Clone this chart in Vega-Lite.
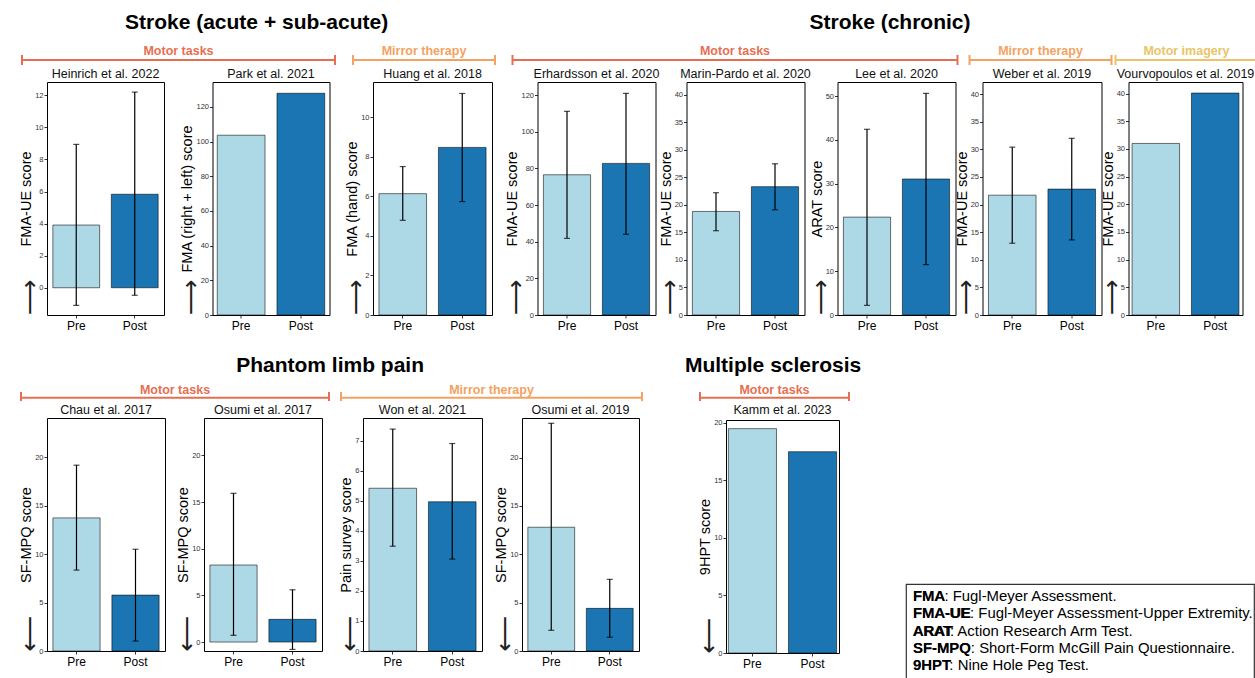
{
"$schema": "https://vega.github.io/schema/vega-lite/v6.json",
"padding": {"left": 17, "top": 12, "right": 0, "bottom": 0},
"config": {
 "font": "Liberation Sans",
 "view": {"stroke": "#000", "strokeWidth": 1},
 "axis": {"grid": false, "domain": false, "tickSize": 3, "tickColor": "#000", "tickWidth": 0.8},
 "axisY": {"labelFontSize": 7.5, "labelColor": "#333", "labelPadding": 1, "titleFontSize": 14.5, "titleFontWeight": "normal", "titleColor": "#000", "titlePadding": 1},
 "axisX": {"labelFontSize": 12, "labelColor": "#000", "labelAngle": 0, "labelPadding": 2},
 "title": {"fontSize": 12.5, "fontWeight": "normal", "color": "#111", "offset": 2, "frame": "group"},
 "bar": {"stroke": "#000", "strokeOpacity": 0.55, "strokeWidth": 1}
},
"spacing": 23,
"vconcat": [
 {"hconcat": [
  {"title": {"text": "Stroke (acute + sub-acute)", "fontSize": 21, "fontWeight": "bold", "color": "#000", "anchor": "middle", "frame": "bounds", "offset": 10},
   "spacing": 1,
   "vconcat": [
    {"hconcat": [
      {"width": 288, "height": 22, "view": {"stroke": null}, "data": {"values": [{"label": "Motor tasks"}]},
       "layer": [
        {"mark": {"type": "rule", "color": "#E76F51", "strokeWidth": 2}, "encoding": {"x": {"datum": 0, "type": "quantitative", "scale": {"domain": [0.0799, 1], "zero": false, "nice": false}, "axis": null}, "x2": {"datum": 1}, "y": {"datum": 0.227, "type": "quantitative", "scale": {"domain": [0, 1], "zero": false, "nice": false}, "axis": null}}},
        {"mark": {"type": "rule", "color": "#E76F51", "strokeWidth": 2}, "encoding": {"x": {"datum": 0, "type": "quantitative"}, "y": {"datum": 0, "type": "quantitative"}, "y2": {"datum": 0.4545}}},
        {"mark": {"type": "rule", "color": "#E76F51", "strokeWidth": 2}, "encoding": {"x": {"datum": 1, "type": "quantitative"}, "y": {"datum": 0, "type": "quantitative"}, "y2": {"datum": 0.4545}}},
        {"mark": {"type": "text", "color": "#E76F51", "fontSize": 12.5, "fontWeight": "bold", "baseline": "middle"}, "encoding": {"x": {"datum": 0.5, "type": "quantitative"}, "y": {"datum": 0.636, "type": "quantitative"}, "text": {"field": "label"}}}
       ]},
      {"width": 142, "height": 22, "view": {"stroke": null}, "data": {"values": [{"label": "Mirror therapy"}]},
       "layer": [
        {"mark": {"type": "rule", "color": "#F4A261", "strokeWidth": 2}, "encoding": {"x": {"datum": 0, "type": "quantitative", "scale": {"domain": [0, 1], "zero": false, "nice": false}, "axis": null}, "x2": {"datum": 1}, "y": {"datum": 0.227, "type": "quantitative", "scale": {"domain": [0, 1], "zero": false, "nice": false}, "axis": null}}},
        {"mark": {"type": "rule", "color": "#F4A261", "strokeWidth": 2}, "encoding": {"x": {"datum": 0, "type": "quantitative"}, "y": {"datum": 0, "type": "quantitative"}, "y2": {"datum": 0.4545}}},
        {"mark": {"type": "rule", "color": "#F4A261", "strokeWidth": 2}, "encoding": {"x": {"datum": 1, "type": "quantitative"}, "y": {"datum": 0, "type": "quantitative"}, "y2": {"datum": 0.4545}}},
        {"mark": {"type": "text", "color": "#F4A261", "fontSize": 12.5, "fontWeight": "bold", "baseline": "middle"}, "encoding": {"x": {"datum": 0.5, "type": "quantitative"}, "y": {"datum": 0.636, "type": "quantitative"}, "text": {"field": "label"}}}
       ]}
     ], "spacing": 16},
    {"hconcat": [
      {"width": 117, "height": 233, "title": "Heinrich et al. 2022",
       "data": {"values": [{"t": "Pre", "v": 3.91, "lo": -1.1, "hi": 8.94}, {"t": "Post", "v": 5.83, "lo": -0.47, "hi": 12.2}]},
       "resolve": {"axis": {"y": "independent"}},
       "layer": [
        {"mark": "bar", "encoding": {
          "x": {"field": "t", "type": "nominal", "sort": ["Pre", "Post"], "title": null, "scale": {"paddingInner": 0.2, "paddingOuter": 0.1}},
          "y": {"field": "v", "type": "quantitative", "title": "FMA-UE score", "scale": {"domain": [-1.7, 12.83], "nice": false, "zero": false}, "axis": {"values": [0, 2, 4, 6, 8, 10, 12]}},
          "y2": {"datum": 0},
          "color": {"field": "t", "type": "nominal", "scale": {"domain": ["Pre", "Post"], "range": ["#add8e6", "#1a75b2"]}, "legend": null}}},
        {"mark": {"type": "rule", "color": "#000", "strokeWidth": 1.2}, "encoding": {
          "x": {"field": "t", "type": "nominal", "sort": ["Pre", "Post"], "title": null},
          "y": {"field": "lo", "type": "quantitative", "axis": {"orient": "left", "title": "⟶", "titleFont": "DejaVu Sans", "titleFontSize": 25, "titleAnchor": "start", "titleColor": "#222", "titlePadding": -8, "labelColor": "transparent", "tickColor": "transparent", "values": [0, 2, 4, 6, 8, 10, 12]}},
          "y2": {"field": "hi"}}},
        {"mark": {"type": "tick", "color": "#000", "size": 6, "thickness": 1.2}, "encoding": {"x": {"field": "t", "type": "nominal", "sort": ["Pre", "Post"], "title": null}, "y": {"field": "lo", "type": "quantitative", "axis": null}}},
        {"mark": {"type": "tick", "color": "#000", "size": 6, "thickness": 1.2}, "encoding": {"x": {"field": "t", "type": "nominal", "sort": ["Pre", "Post"], "title": null}, "y": {"field": "hi", "type": "quantitative", "axis": null}}}
       ]},
      {"width": 117, "height": 233, "title": "Park et al. 2021",
       "data": {"values": [{"t": "Pre", "v": 103.7}, {"t": "Post", "v": 127.9}]},
       "resolve": {"axis": {"y": "independent"}},
       "layer": [
        {"mark": "bar", "encoding": {
          "x": {"field": "t", "type": "nominal", "sort": ["Pre", "Post"], "title": null, "scale": {"paddingInner": 0.2, "paddingOuter": 0.08}},
          "y": {"field": "v", "type": "quantitative", "title": "FMA (right + left) score", "scale": {"domain": [0, 134.4], "nice": false, "zero": false}, "axis": {"values": [0, 20, 40, 60, 80, 100, 120]}},
          "y2": {"datum": 0},
          "color": {"field": "t", "type": "nominal", "scale": {"domain": ["Pre", "Post"], "range": ["#add8e6", "#1a75b2"]}, "legend": null}}},
        {"mark": {"type": "rule", "color": "#000", "strokeWidth": 1.2}, "encoding": {
          "x": {"field": "t", "type": "nominal", "sort": ["Pre", "Post"], "title": null},
          "y": {"field": "lo", "type": "quantitative", "axis": {"orient": "left", "title": "⟶", "titleFont": "DejaVu Sans", "titleFontSize": 25, "titleAnchor": "start", "titleColor": "#222", "titlePadding": -8, "labelColor": "transparent", "tickColor": "transparent", "values": [0, 20, 40, 60, 80, 100, 120]}},
          "y2": {"field": "hi"}}}
       ]},
      {"width": 119, "height": 233, "title": "Huang et al. 2018",
       "data": {"values": [{"t": "Pre", "v": 6.14, "lo": 4.79, "hi": 7.51}, {"t": "Post", "v": 8.48, "lo": 5.74, "hi": 11.21}]},
       "resolve": {"axis": {"y": "independent"}},
       "layer": [
        {"mark": "bar", "encoding": {
          "x": {"field": "t", "type": "nominal", "sort": ["Pre", "Post"], "title": null, "scale": {"paddingInner": 0.2, "paddingOuter": 0.1}},
          "y": {"field": "v", "type": "quantitative", "title": "FMA (hand) score", "scale": {"domain": [0, 11.79], "nice": false, "zero": false}, "axis": {"values": [0, 2, 4, 6, 8, 10]}},
          "y2": {"datum": 0},
          "color": {"field": "t", "type": "nominal", "scale": {"domain": ["Pre", "Post"], "range": ["#add8e6", "#1a75b2"]}, "legend": null}}},
        {"mark": {"type": "rule", "color": "#000", "strokeWidth": 1.2}, "encoding": {
          "x": {"field": "t", "type": "nominal", "sort": ["Pre", "Post"], "title": null},
          "y": {"field": "lo", "type": "quantitative", "axis": {"orient": "left", "title": "⟶", "titleFont": "DejaVu Sans", "titleFontSize": 25, "titleAnchor": "start", "titleColor": "#222", "titlePadding": -8, "labelColor": "transparent", "tickColor": "transparent", "values": [0, 2, 4, 6, 8, 10]}},
          "y2": {"field": "hi"}}},
        {"mark": {"type": "tick", "color": "#000", "size": 6, "thickness": 1.2}, "encoding": {"x": {"field": "t", "type": "nominal", "sort": ["Pre", "Post"], "title": null}, "y": {"field": "lo", "type": "quantitative", "axis": null}}},
        {"mark": {"type": "tick", "color": "#000", "size": 6, "thickness": 1.2}, "encoding": {"x": {"field": "t", "type": "nominal", "sort": ["Pre", "Post"], "title": null}, "y": {"field": "hi", "type": "quantitative", "axis": null}}}
       ]}
     ], "spacing": 12.5}
   ]},
  {"title": {"text": "Stroke (chronic)", "fontSize": 21, "fontWeight": "bold", "color": "#000", "anchor": "middle", "frame": "bounds", "offset": 10, "dx": 9},
   "spacing": 1,
   "vconcat": [
    {"hconcat": [
      {"width": 420, "height": 22, "view": {"stroke": null}, "data": {"values": [{"label": "Motor tasks"}]},
       "layer": [
        {"mark": {"type": "rule", "color": "#E76F51", "strokeWidth": 2}, "encoding": {"x": {"datum": 0, "type": "quantitative", "scale": {"domain": [0.0562, 1], "zero": false, "nice": false}, "axis": null}, "x2": {"datum": 1}, "y": {"datum": 0.227, "type": "quantitative", "scale": {"domain": [0, 1], "zero": false, "nice": false}, "axis": null}}},
        {"mark": {"type": "rule", "color": "#E76F51", "strokeWidth": 2}, "encoding": {"x": {"datum": 0, "type": "quantitative"}, "y": {"datum": 0, "type": "quantitative"}, "y2": {"datum": 0.4545}}},
        {"mark": {"type": "rule", "color": "#E76F51", "strokeWidth": 2}, "encoding": {"x": {"datum": 1, "type": "quantitative"}, "y": {"datum": 0, "type": "quantitative"}, "y2": {"datum": 0.4545}}},
        {"mark": {"type": "text", "color": "#E76F51", "fontSize": 12.5, "fontWeight": "bold", "baseline": "middle"}, "encoding": {"x": {"datum": 0.5, "type": "quantitative"}, "y": {"datum": 0.636, "type": "quantitative"}, "text": {"field": "label"}}}
       ]},
      {"hconcat": [
        {"width": 142, "height": 22, "view": {"stroke": null}, "data": {"values": [{"label": "Mirror therapy"}]},
         "layer": [
          {"mark": {"type": "rule", "color": "#F4A261", "strokeWidth": 2}, "encoding": {"x": {"datum": 0, "type": "quantitative", "scale": {"domain": [0, 1], "zero": false, "nice": false}, "axis": null}, "x2": {"datum": 1}, "y": {"datum": 0.227, "type": "quantitative", "scale": {"domain": [0, 1], "zero": false, "nice": false}, "axis": null}}},
          {"mark": {"type": "rule", "color": "#F4A261", "strokeWidth": 2}, "encoding": {"x": {"datum": 0, "type": "quantitative"}, "y": {"datum": 0, "type": "quantitative"}, "y2": {"datum": 0.4545}}},
          {"mark": {"type": "rule", "color": "#F4A261", "strokeWidth": 2}, "encoding": {"x": {"datum": 1, "type": "quantitative"}, "y": {"datum": 0, "type": "quantitative"}, "y2": {"datum": 0.4545}}},
          {"mark": {"type": "text", "color": "#F4A261", "fontSize": 12.5, "fontWeight": "bold", "baseline": "middle"}, "encoding": {"x": {"datum": 0.5, "type": "quantitative"}, "y": {"datum": 0.636, "type": "quantitative"}, "text": {"field": "label"}}}
         ]},
        {"width": 142, "height": 22, "view": {"stroke": null}, "data": {"values": [{"label": "Motor imagery"}]},
         "layer": [
          {"mark": {"type": "rule", "color": "#E9C46A", "strokeWidth": 2}, "encoding": {"x": {"datum": 0, "type": "quantitative", "scale": {"domain": [0, 1], "zero": false, "nice": false}, "axis": null}, "x2": {"datum": 1}, "y": {"datum": 0.227, "type": "quantitative", "scale": {"domain": [0, 1], "zero": false, "nice": false}, "axis": null}}},
          {"mark": {"type": "rule", "color": "#E9C46A", "strokeWidth": 2}, "encoding": {"x": {"datum": 0, "type": "quantitative"}, "y": {"datum": 0, "type": "quantitative"}, "y2": {"datum": 0.4545}}},
          {"mark": {"type": "rule", "color": "#E9C46A", "strokeWidth": 2}, "encoding": {"x": {"datum": 1, "type": "quantitative"}, "y": {"datum": 0, "type": "quantitative"}, "y2": {"datum": 0.4545}}},
          {"mark": {"type": "text", "color": "#E9C46A", "fontSize": 12.5, "fontWeight": "bold", "baseline": "middle"}, "encoding": {"x": {"datum": 0.5, "type": "quantitative"}, "y": {"datum": 0.636, "type": "quantitative"}, "text": {"field": "label"}}}
         ]}
       ], "spacing": 2}
     ], "spacing": 10},
    {"hconcat": [
      {"width": 118, "height": 233, "title": "Erhardsson et al. 2020",
       "data": {"values": [{"t": "Pre", "v": 76.5, "lo": 41.8, "hi": 111.1}, {"t": "Post", "v": 82.7, "lo": 44.0, "hi": 120.9}]},
       "resolve": {"axis": {"y": "independent"}},
       "layer": [
        {"mark": "bar", "encoding": {
          "x": {"field": "t", "type": "nominal", "sort": ["Pre", "Post"], "title": null, "scale": {"paddingInner": 0.2, "paddingOuter": 0.1}},
          "y": {"field": "v", "type": "quantitative", "title": "FMA-UE score", "scale": {"domain": [0, 127.1], "nice": false, "zero": false}, "axis": {"values": [0, 20, 40, 60, 80, 100, 120]}},
          "y2": {"datum": 0},
          "color": {"field": "t", "type": "nominal", "scale": {"domain": ["Pre", "Post"], "range": ["#add8e6", "#1a75b2"]}, "legend": null}}},
        {"mark": {"type": "rule", "color": "#000", "strokeWidth": 1.2}, "encoding": {
          "x": {"field": "t", "type": "nominal", "sort": ["Pre", "Post"], "title": null},
          "y": {"field": "lo", "type": "quantitative", "axis": {"orient": "left", "title": "⟶", "titleFont": "DejaVu Sans", "titleFontSize": 25, "titleAnchor": "start", "titleColor": "#222", "titlePadding": -8, "labelColor": "transparent", "tickColor": "transparent", "values": [0, 20, 40, 60, 80, 100, 120]}},
          "y2": {"field": "hi"}}},
        {"mark": {"type": "tick", "color": "#000", "size": 6, "thickness": 1.2}, "encoding": {"x": {"field": "t", "type": "nominal", "sort": ["Pre", "Post"], "title": null}, "y": {"field": "lo", "type": "quantitative", "axis": null}}},
        {"mark": {"type": "tick", "color": "#000", "size": 6, "thickness": 1.2}, "encoding": {"x": {"field": "t", "type": "nominal", "sort": ["Pre", "Post"], "title": null}, "y": {"field": "hi", "type": "quantitative", "axis": null}}}
       ]},
      {"width": 118, "height": 233, "title": "Marin-Pardo et al. 2020",
       "data": {"values": [{"t": "Pre", "v": 18.8, "lo": 15.3, "hi": 22.2}, {"t": "Post", "v": 23.3, "lo": 19.1, "hi": 27.45}]},
       "resolve": {"axis": {"y": "independent"}},
       "layer": [
        {"mark": "bar", "encoding": {
          "x": {"field": "t", "type": "nominal", "sort": ["Pre", "Post"], "title": null, "scale": {"paddingInner": 0.2, "paddingOuter": 0.1}},
          "y": {"field": "v", "type": "quantitative", "title": "FMA-UE score", "scale": {"domain": [0, 42.3], "nice": false, "zero": false}, "axis": {"values": [0, 5, 10, 15, 20, 25, 30, 35, 40]}},
          "y2": {"datum": 0},
          "color": {"field": "t", "type": "nominal", "scale": {"domain": ["Pre", "Post"], "range": ["#8ecae6", "#1a75b2"]}, "legend": null}}},
        {"mark": {"type": "rule", "color": "#000", "strokeWidth": 1.2}, "encoding": {
          "x": {"field": "t", "type": "nominal", "sort": ["Pre", "Post"], "title": null},
          "y": {"field": "lo", "type": "quantitative", "axis": {"orient": "left", "title": "⟶", "titleFont": "DejaVu Sans", "titleFontSize": 25, "titleAnchor": "start", "titleColor": "#222", "titlePadding": -8, "labelColor": "transparent", "tickColor": "transparent", "values": [0, 5, 10, 15, 20, 25, 30, 35, 40]}},
          "y2": {"field": "hi"}}},
        {"mark": {"type": "tick", "color": "#000", "size": 6, "thickness": 1.2}, "encoding": {"x": {"field": "t", "type": "nominal", "sort": ["Pre", "Post"], "title": null}, "y": {"field": "lo", "type": "quantitative", "axis": null}}},
        {"mark": {"type": "tick", "color": "#000", "size": 6, "thickness": 1.2}, "encoding": {"x": {"field": "t", "type": "nominal", "sort": ["Pre", "Post"], "title": null}, "y": {"field": "hi", "type": "quantitative", "axis": null}}}
       ]},
      {"width": 118, "height": 233, "title": "Lee et al. 2020",
       "data": {"values": [{"t": "Pre", "v": 22.35, "lo": 2.2, "hi": 42.4}, {"t": "Post", "v": 31.05, "lo": 11.5, "hi": 50.6}]},
       "resolve": {"axis": {"y": "independent"}},
       "layer": [
        {"mark": "bar", "encoding": {
          "x": {"field": "t", "type": "nominal", "sort": ["Pre", "Post"], "title": null, "scale": {"paddingInner": 0.2, "paddingOuter": 0.1}},
          "y": {"field": "v", "type": "quantitative", "title": "ARAT score", "scale": {"domain": [0, 53.2], "nice": false, "zero": false}, "axis": {"values": [0, 10, 20, 30, 40, 50]}},
          "y2": {"datum": 0},
          "color": {"field": "t", "type": "nominal", "scale": {"domain": ["Pre", "Post"], "range": ["#add8e6", "#1a75b2"]}, "legend": null}}},
        {"mark": {"type": "rule", "color": "#000", "strokeWidth": 1.2}, "encoding": {
          "x": {"field": "t", "type": "nominal", "sort": ["Pre", "Post"], "title": null},
          "y": {"field": "lo", "type": "quantitative", "axis": {"orient": "left", "title": "⟶", "titleFont": "DejaVu Sans", "titleFontSize": 25, "titleAnchor": "start", "titleColor": "#222", "titlePadding": -8, "labelColor": "transparent", "tickColor": "transparent", "values": [0, 10, 20, 30, 40, 50]}},
          "y2": {"field": "hi"}}},
        {"mark": {"type": "tick", "color": "#000", "size": 6, "thickness": 1.2}, "encoding": {"x": {"field": "t", "type": "nominal", "sort": ["Pre", "Post"], "title": null}, "y": {"field": "lo", "type": "quantitative", "axis": null}}},
        {"mark": {"type": "tick", "color": "#000", "size": 6, "thickness": 1.2}, "encoding": {"x": {"field": "t", "type": "nominal", "sort": ["Pre", "Post"], "title": null}, "y": {"field": "hi", "type": "quantitative", "axis": null}}}
       ]},
      {"width": 119, "height": 233, "title": "Weber et al. 2019",
       "data": {"values": [{"t": "Pre", "v": 21.7, "lo": 13.0, "hi": 30.4}, {"t": "Post", "v": 22.8, "lo": 13.6, "hi": 32.0}]},
       "resolve": {"axis": {"y": "independent"}},
       "layer": [
        {"mark": "bar", "encoding": {
          "x": {"field": "t", "type": "nominal", "sort": ["Pre", "Post"], "title": null, "scale": {"paddingInner": 0.2, "paddingOuter": 0.1}},
          "y": {"field": "v", "type": "quantitative", "title": "FMA-UE score", "scale": {"domain": [0, 42.2], "nice": false, "zero": false}, "axis": {"values": [0, 5, 10, 15, 20, 25, 30, 35, 40]}},
          "y2": {"datum": 0},
          "color": {"field": "t", "type": "nominal", "scale": {"domain": ["Pre", "Post"], "range": ["#8ecae6", "#1a75b2"]}, "legend": null}}},
        {"mark": {"type": "rule", "color": "#000", "strokeWidth": 1.2}, "encoding": {
          "x": {"field": "t", "type": "nominal", "sort": ["Pre", "Post"], "title": null},
          "y": {"field": "lo", "type": "quantitative", "axis": {"orient": "left", "title": "⟶", "titleFont": "DejaVu Sans", "titleFontSize": 25, "titleAnchor": "start", "titleColor": "#222", "titlePadding": -8, "labelColor": "transparent", "tickColor": "transparent", "values": [0, 5, 10, 15, 20, 25, 30, 35, 40]}},
          "y2": {"field": "hi"}}},
        {"mark": {"type": "tick", "color": "#000", "size": 6, "thickness": 1.2}, "encoding": {"x": {"field": "t", "type": "nominal", "sort": ["Pre", "Post"], "title": null}, "y": {"field": "lo", "type": "quantitative", "axis": null}}},
        {"mark": {"type": "tick", "color": "#000", "size": 6, "thickness": 1.2}, "encoding": {"x": {"field": "t", "type": "nominal", "sort": ["Pre", "Post"], "title": null}, "y": {"field": "hi", "type": "quantitative", "axis": null}}}
       ]},
      {"width": 114, "height": 233, "title": "Vourvopoulos et al. 2019",
       "data": {"values": [{"t": "Pre", "v": 31.0}, {"t": "Post", "v": 40.1}]},
       "resolve": {"axis": {"y": "independent"}},
       "layer": [
        {"mark": "bar", "encoding": {
          "x": {"field": "t", "type": "nominal", "sort": ["Pre", "Post"], "title": null, "scale": {"paddingInner": 0.2, "paddingOuter": 0.06}},
          "y": {"field": "v", "type": "quantitative", "title": "FMA-UE score", "scale": {"domain": [0, 42.1], "nice": false, "zero": false}, "axis": {"values": [0, 5, 10, 15, 20, 25, 30, 35, 40]}},
          "y2": {"datum": 0},
          "color": {"field": "t", "type": "nominal", "scale": {"domain": ["Pre", "Post"], "range": ["#8ecae6", "#1a75b2"]}, "legend": null}}},
        {"mark": {"type": "rule", "color": "#000", "strokeWidth": 1.2}, "encoding": {
          "x": {"field": "t", "type": "nominal", "sort": ["Pre", "Post"], "title": null},
          "y": {"field": "lo", "type": "quantitative", "axis": {"orient": "left", "title": "⟶", "titleFont": "DejaVu Sans", "titleFontSize": 25, "titleAnchor": "start", "titleColor": "#222", "titlePadding": -8, "labelColor": "transparent", "tickColor": "transparent", "values": [0, 5, 10, 15, 20, 25, 30, 35, 40]}},
          "y2": {"field": "hi"}}}
       ]}
     ], "spacing": -4}
   ]}
 ], "spacing": 6.5},
 {"hconcat": [
  {"hconcat": [
   {"title": {"text": "Phantom limb pain", "fontSize": 21, "fontWeight": "bold", "color": "#000", "anchor": "middle", "frame": "bounds", "offset": 8},
    "spacing": 1,
    "vconcat": [
     {"hconcat": [
       {"width": 282, "height": 16, "view": {"stroke": null}, "data": {"values": [{"label": "Motor tasks"}]},
        "layer": [
         {"mark": {"type": "rule", "color": "#E76F51", "strokeWidth": 2}, "encoding": {"x": {"datum": 0, "type": "quantitative", "scale": {"domain": [0.0844, 1], "zero": false, "nice": false}, "axis": null}, "x2": {"datum": 1}, "y": {"datum": 0.206, "type": "quantitative", "scale": {"domain": [0, 1], "zero": false, "nice": false}, "axis": null}}},
         {"mark": {"type": "rule", "color": "#E76F51", "strokeWidth": 2}, "encoding": {"x": {"datum": 0, "type": "quantitative"}, "y": {"datum": 0, "type": "quantitative"}, "y2": {"datum": 0.5625}}},
         {"mark": {"type": "rule", "color": "#E76F51", "strokeWidth": 2}, "encoding": {"x": {"datum": 1, "type": "quantitative"}, "y": {"datum": 0, "type": "quantitative"}, "y2": {"datum": 0.5625}}},
         {"mark": {"type": "text", "color": "#E76F51", "fontSize": 12.5, "fontWeight": "bold", "baseline": "middle"}, "encoding": {"x": {"datum": 0.5, "type": "quantitative"}, "y": {"datum": 0.669, "type": "quantitative"}, "text": {"field": "label"}}}
        ]},
       {"width": 301, "height": 16, "view": {"stroke": null}, "data": {"values": [{"label": "Mirror therapy"}]},
        "layer": [
         {"mark": {"type": "rule", "color": "#F4A261", "strokeWidth": 2}, "encoding": {"x": {"datum": 0, "type": "quantitative", "scale": {"domain": [0, 1], "zero": false, "nice": false}, "axis": null}, "x2": {"datum": 1}, "y": {"datum": 0.206, "type": "quantitative", "scale": {"domain": [0, 1], "zero": false, "nice": false}, "axis": null}}},
         {"mark": {"type": "rule", "color": "#F4A261", "strokeWidth": 2}, "encoding": {"x": {"datum": 0, "type": "quantitative"}, "y": {"datum": 0, "type": "quantitative"}, "y2": {"datum": 0.5625}}},
         {"mark": {"type": "rule", "color": "#F4A261", "strokeWidth": 2}, "encoding": {"x": {"datum": 1, "type": "quantitative"}, "y": {"datum": 0, "type": "quantitative"}, "y2": {"datum": 0.5625}}},
         {"mark": {"type": "text", "color": "#F4A261", "fontSize": 12.5, "fontWeight": "bold", "baseline": "middle"}, "encoding": {"x": {"datum": 0.5, "type": "quantitative"}, "y": {"datum": 0.669, "type": "quantitative"}, "text": {"field": "label"}}}
        ]}
      ], "spacing": 10},
     {"hconcat": [
       {"hconcat": [
         {"width": 118, "height": 233, "title": "Chau et al. 2017",
          "data": {"values": [{"t": "Pre", "v": 13.74, "lo": 8.35, "hi": 19.18}, {"t": "Post", "v": 5.77, "lo": 1.03, "hi": 10.5}]},
          "resolve": {"axis": {"y": "independent"}},
          "layer": [
           {"mark": "bar", "encoding": {
             "x": {"field": "t", "type": "nominal", "sort": ["Pre", "Post"], "title": null, "scale": {"paddingInner": 0.2, "paddingOuter": 0.1}},
             "y": {"field": "v", "type": "quantitative", "title": "SF-MPQ score", "scale": {"domain": [0, 24.05], "nice": false, "zero": false}, "axis": {"values": [0, 5, 10, 15, 20]}},
             "y2": {"datum": 0},
             "color": {"field": "t", "type": "nominal", "scale": {"domain": ["Pre", "Post"], "range": ["#8ecae6", "#1a75b2"]}, "legend": null}}},
           {"mark": {"type": "rule", "color": "#000", "strokeWidth": 1.2}, "encoding": {
             "x": {"field": "t", "type": "nominal", "sort": ["Pre", "Post"], "title": null},
             "y": {"field": "lo", "type": "quantitative", "axis": {"orient": "left", "title": "⟵", "titleFont": "DejaVu Sans", "titleFontSize": 25, "titleAnchor": "start", "titleColor": "#222", "titlePadding": -8, "labelColor": "transparent", "tickColor": "transparent", "values": [0, 5, 10, 15, 20]}},
             "y2": {"field": "hi"}}},
           {"mark": {"type": "tick", "color": "#000", "size": 6, "thickness": 1.2}, "encoding": {"x": {"field": "t", "type": "nominal", "sort": ["Pre", "Post"], "title": null}, "y": {"field": "lo", "type": "quantitative", "axis": null}}},
           {"mark": {"type": "tick", "color": "#000", "size": 6, "thickness": 1.2}, "encoding": {"x": {"field": "t", "type": "nominal", "sort": ["Pre", "Post"], "title": null}, "y": {"field": "hi", "type": "quantitative", "axis": null}}}
          ]},
         {"width": 118, "height": 233, "title": "Osumi et al. 2017",
          "data": {"values": [{"t": "Pre", "v": 8.25, "lo": 0.72, "hi": 15.93}, {"t": "Post", "v": 2.43, "lo": -0.79, "hi": 5.6}]},
          "resolve": {"axis": {"y": "independent"}},
          "layer": [
           {"mark": "bar", "encoding": {
             "x": {"field": "t", "type": "nominal", "sort": ["Pre", "Post"], "title": null, "scale": {"paddingInner": 0.2, "paddingOuter": 0.1}},
             "y": {"field": "v", "type": "quantitative", "title": "SF-MPQ score", "scale": {"domain": [-0.96, 24.0], "nice": false, "zero": false}, "axis": {"values": [0, 5, 10, 15, 20]}},
             "y2": {"datum": 0},
             "color": {"field": "t", "type": "nominal", "scale": {"domain": ["Pre", "Post"], "range": ["#8ecae6", "#1a75b2"]}, "legend": null}}},
           {"mark": {"type": "rule", "color": "#000", "strokeWidth": 1.2}, "encoding": {
             "x": {"field": "t", "type": "nominal", "sort": ["Pre", "Post"], "title": null},
             "y": {"field": "lo", "type": "quantitative", "axis": {"orient": "left", "title": "⟵", "titleFont": "DejaVu Sans", "titleFontSize": 25, "titleAnchor": "start", "titleColor": "#222", "titlePadding": -8, "labelColor": "transparent", "tickColor": "transparent", "values": [0, 5, 10, 15, 20]}},
             "y2": {"field": "hi"}}},
           {"mark": {"type": "tick", "color": "#000", "size": 6, "thickness": 1.2}, "encoding": {"x": {"field": "t", "type": "nominal", "sort": ["Pre", "Post"], "title": null}, "y": {"field": "lo", "type": "quantitative", "axis": null}}},
           {"mark": {"type": "tick", "color": "#000", "size": 6, "thickness": 1.2}, "encoding": {"x": {"field": "t", "type": "nominal", "sort": ["Pre", "Post"], "title": null}, "y": {"field": "hi", "type": "quantitative", "axis": null}}}
          ]}
        ], "spacing": 8},
       {"hconcat": [
         {"width": 119, "height": 233, "title": "Won et al. 2021",
          "data": {"values": [{"t": "Pre", "v": 5.42, "lo": 3.49, "hi": 7.39}, {"t": "Post", "v": 4.97, "lo": 3.06, "hi": 6.91}]},
          "resolve": {"axis": {"y": "independent"}},
          "layer": [
           {"mark": "bar", "encoding": {
             "x": {"field": "t", "type": "nominal", "sort": ["Pre", "Post"], "title": null, "scale": {"paddingInner": 0.2, "paddingOuter": 0.1}},
             "y": {"field": "v", "type": "quantitative", "title": "Pain survey score", "scale": {"domain": [0, 7.76], "nice": false, "zero": false}, "axis": {"values": [0, 1, 2, 3, 4, 5, 6, 7]}},
             "y2": {"datum": 0},
             "color": {"field": "t", "type": "nominal", "scale": {"domain": ["Pre", "Post"], "range": ["#add8e6", "#1a75b2"]}, "legend": null}}},
           {"mark": {"type": "rule", "color": "#000", "strokeWidth": 1.2}, "encoding": {
             "x": {"field": "t", "type": "nominal", "sort": ["Pre", "Post"], "title": null},
             "y": {"field": "lo", "type": "quantitative", "axis": {"orient": "left", "title": "⟵", "titleFont": "DejaVu Sans", "titleFontSize": 25, "titleAnchor": "start", "titleColor": "#222", "titlePadding": -8, "labelColor": "transparent", "tickColor": "transparent", "values": [0, 1, 2, 3, 4, 5, 6, 7]}},
             "y2": {"field": "hi"}}},
           {"mark": {"type": "tick", "color": "#000", "size": 6, "thickness": 1.2}, "encoding": {"x": {"field": "t", "type": "nominal", "sort": ["Pre", "Post"], "title": null}, "y": {"field": "lo", "type": "quantitative", "axis": null}}},
           {"mark": {"type": "tick", "color": "#000", "size": 6, "thickness": 1.2}, "encoding": {"x": {"field": "t", "type": "nominal", "sort": ["Pre", "Post"], "title": null}, "y": {"field": "hi", "type": "quantitative", "axis": null}}}
          ]},
         {"width": 117, "height": 233, "title": "Osumi et al. 2019",
          "data": {"values": [{"t": "Pre", "v": 12.8, "lo": 2.14, "hi": 23.55}, {"t": "Post", "v": 4.41, "lo": 1.42, "hi": 7.41}]},
          "resolve": {"axis": {"y": "independent"}},
          "layer": [
           {"mark": "bar", "encoding": {
             "x": {"field": "t", "type": "nominal", "sort": ["Pre", "Post"], "title": null, "scale": {"paddingInner": 0.2, "paddingOuter": 0.1}},
             "y": {"field": "v", "type": "quantitative", "title": "SF-MPQ score", "scale": {"domain": [0, 24.1], "nice": false, "zero": false}, "axis": {"values": [0, 5, 10, 15, 20]}},
             "y2": {"datum": 0},
             "color": {"field": "t", "type": "nominal", "scale": {"domain": ["Pre", "Post"], "range": ["#8ecae6", "#1a75b2"]}, "legend": null}}},
           {"mark": {"type": "rule", "color": "#000", "strokeWidth": 1.2}, "encoding": {
             "x": {"field": "t", "type": "nominal", "sort": ["Pre", "Post"], "title": null},
             "y": {"field": "lo", "type": "quantitative", "axis": {"orient": "left", "title": "⟵", "titleFont": "DejaVu Sans", "titleFontSize": 25, "titleAnchor": "start", "titleColor": "#222", "titlePadding": -8, "labelColor": "transparent", "tickColor": "transparent", "values": [0, 5, 10, 15, 20]}},
             "y2": {"field": "hi"}}},
           {"mark": {"type": "tick", "color": "#000", "size": 6, "thickness": 1.2}, "encoding": {"x": {"field": "t", "type": "nominal", "sort": ["Pre", "Post"], "title": null}, "y": {"field": "lo", "type": "quantitative", "axis": null}}},
           {"mark": {"type": "tick", "color": "#000", "size": 6, "thickness": 1.2}, "encoding": {"x": {"field": "t", "type": "nominal", "sort": ["Pre", "Post"], "title": null}, "y": {"field": "hi", "type": "quantitative", "axis": null}}}
          ]}
        ], "spacing": 9}
      ], "spacing": 14}
    ]},
   {"title": {"text": "Multiple sclerosis", "fontSize": 21, "fontWeight": "bold", "color": "#000", "anchor": "middle", "frame": "bounds", "offset": 8},
    "spacing": 1,
    "vconcat": [
     {"width": 123, "height": 16, "view": {"stroke": null}, "data": {"values": [{"label": "Motor tasks"}]},
      "layer": [
       {"mark": {"type": "rule", "color": "#E76F51", "strokeWidth": 2}, "encoding": {"x": {"datum": 0, "type": "quantitative", "scale": {"domain": [0.1745, 1], "zero": false, "nice": false}, "axis": null}, "x2": {"datum": 1}, "y": {"datum": 0.206, "type": "quantitative", "scale": {"domain": [0, 1], "zero": false, "nice": false}, "axis": null}}},
       {"mark": {"type": "rule", "color": "#E76F51", "strokeWidth": 2}, "encoding": {"x": {"datum": 0, "type": "quantitative"}, "y": {"datum": 0, "type": "quantitative"}, "y2": {"datum": 0.5625}}},
       {"mark": {"type": "rule", "color": "#E76F51", "strokeWidth": 2}, "encoding": {"x": {"datum": 1, "type": "quantitative"}, "y": {"datum": 0, "type": "quantitative"}, "y2": {"datum": 0.5625}}},
       {"mark": {"type": "text", "color": "#E76F51", "fontSize": 12.5, "fontWeight": "bold", "baseline": "middle"}, "encoding": {"x": {"datum": 0.5, "type": "quantitative"}, "y": {"datum": 0.669, "type": "quantitative"}, "text": {"field": "label"}}}
      ]},
     {"width": 113, "height": 233, "title": "Kamm et al. 2023",
      "data": {"values": [{"t": "Pre", "v": 19.48}, {"t": "Post", "v": 17.48}]},
      "resolve": {"axis": {"y": "independent"}},
      "layer": [
       {"mark": "bar", "encoding": {
         "x": {"field": "t", "type": "nominal", "sort": ["Pre", "Post"], "title": null, "scale": {"paddingInner": 0.2, "paddingOuter": 0.04}},
         "y": {"field": "v", "type": "quantitative", "title": "9HPT score", "scale": {"domain": [0, 20.23], "nice": false, "zero": false}, "axis": {"values": [0, 5, 10, 15, 20]}},
         "y2": {"datum": 0},
         "color": {"field": "t", "type": "nominal", "scale": {"domain": ["Pre", "Post"], "range": ["#8ecae6", "#1a75b2"]}, "legend": null}}},
       {"mark": {"type": "rule", "color": "#000", "strokeWidth": 1.2}, "encoding": {
         "x": {"field": "t", "type": "nominal", "sort": ["Pre", "Post"], "title": null},
         "y": {"field": "lo", "type": "quantitative", "axis": {"orient": "left", "title": "⟵", "titleFont": "DejaVu Sans", "titleFontSize": 25, "titleAnchor": "start", "titleColor": "#222", "titlePadding": -8, "labelColor": "transparent", "tickColor": "transparent", "values": [0, 5, 10, 15, 20]}},
         "y2": {"field": "hi"}}}
      ]}
    ]}
  ], "spacing": 41},
  {"spacing": 9,
   "vconcat": [
    {"width": 1, "height": 189, "view": {"stroke": null}, "data": {"values": []}, "mark": "point"},
    {"width": 348, "height": 95, "view": {"stroke": "#333", "strokeWidth": 1.2},
     "data": {"values": [
       {"row": 1, "abbr": "FMA", "line": "FMA: Fugl-Meyer Assessment."},
       {"row": 2, "abbr": "FMA-UE", "line": "FMA-UE: Fugl-Meyer Assessment-Upper Extremity."},
       {"row": 3, "abbr": "ARAT", "line": "ARAT: Action Research Arm Test."},
       {"row": 4, "abbr": "SF-MPQ", "line": "SF-MPQ: Short-Form McGill Pain Questionnaire."},
       {"row": 5, "abbr": "9HPT", "line": "9HPT: Nine Hole Peg Test."}
     ]},
     "layer": [
      {"mark": {"type": "text", "align": "left", "baseline": "middle", "fontSize": 14.9, "color": "#000"},
       "encoding": {"x": {"datum": 0.02, "type": "quantitative", "scale": {"domain": [0, 1]}, "axis": null}, "y": {"field": "row", "type": "ordinal", "scale": {"type": "point", "padding": 0.75}, "axis": null}, "text": {"field": "line"}}},
      {"mark": {"type": "text", "align": "left", "baseline": "middle", "fontSize": 14.9, "fontWeight": "bold", "color": "#000"},
       "encoding": {"x": {"datum": 0.02, "type": "quantitative"}, "y": {"field": "row", "type": "ordinal"}, "text": {"field": "abbr"}}}
     ]}
   ]}
 ], "spacing": 43}
]
}
